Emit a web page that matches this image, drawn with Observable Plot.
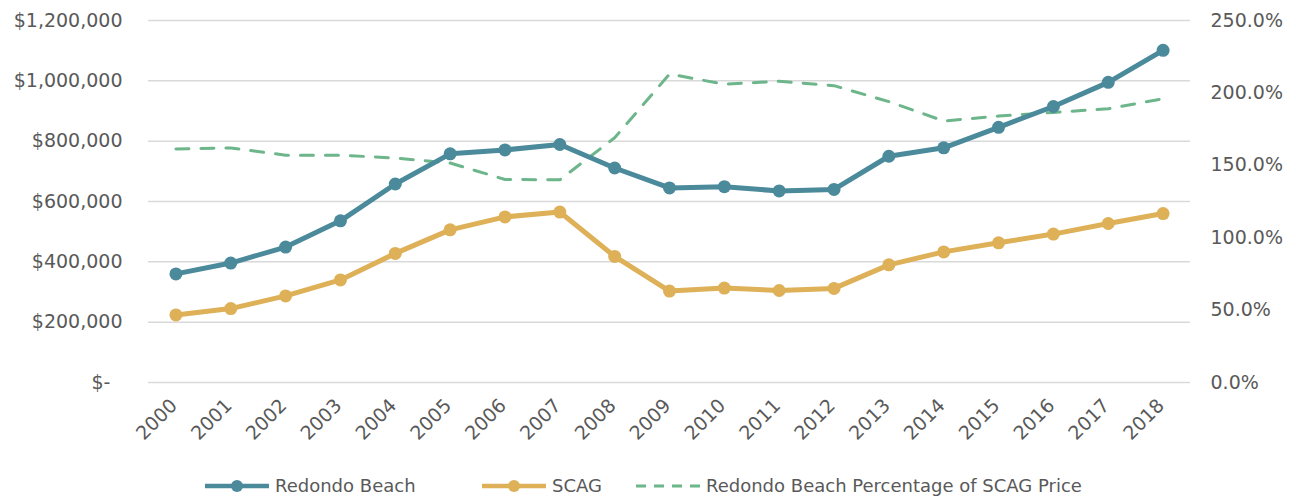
<!DOCTYPE html>
<html>
<head>
<meta charset="utf-8">
<script src="https://cdn.jsdelivr.net/npm/d3@7"></script>
<script src="https://cdn.jsdelivr.net/npm/@observablehq/plot@0.6"></script>
<style>
  body { margin: 0; background: #fff; font-family: "DejaVu Sans", sans-serif; }
  #legend { position: relative; height: 30px; margin-top: 15px; color: #595959; font-size: 18px; }
  .item { position: absolute; top: 0; display: flex; align-items: center; }
  .item svg { display: block; }
</style>
</head>
<body>
<div id="chart"></div>
<div id="legend"></div>
<script>
const years = ["2000","2001","2002","2003","2004","2005","2006","2007","2008","2009","2010","2011","2012","2013","2014","2015","2016","2017","2018"];
const redondo = [360000,396000,449000,536000,658000,758000,771000,789000,711000,645000,649000,635000,640000,750000,778000,846000,915000,995000,1101000];
const scag = [224000,245000,287000,340000,428000,506000,549000,565000,418000,303000,313000,305000,312000,390000,433000,463000,492000,527000,560000];
const pct = [161.3,162,157,157,155,151.6,140.2,140,169,213,206,208,205,194,180.6,184,186.5,189,196];
const leftTicks = [0,200000,400000,600000,800000,1000000,1200000];
const rightTicks = [0,50,100,150,200,250];
const seriesNames = ["Redondo Beach", "SCAG", "Redondo Beach Percentage of SCAG Price"];

const teal = "#4a8a9b", gold = "#deb057", green = "#6db58a", textCol = "#595959";
const scaleFactor = 1200000 / 250; // right axis 250% aligns with $1,200,000

const rb = years.map((y, i) => ({year: y, value: redondo[i]}));
const sc = years.map((y, i) => ({year: y, value: scag[i]}));
const pc = years.map((y, i) => ({year: y, value: pct[i] * scaleFactor}));

const fmtMoney = v => v === 0 ? "$-\u00a0\u00a0" : "$" + d3.format(",")(v);
const FS = 19;

const chart = Plot.plot({
  width: 1296,
  height: 460,
  marginLeft: 148,
  marginRight: 106,
  marginTop: 20,
  marginBottom: 78,
  style: {fontFamily: "DejaVu Sans, sans-serif", fontSize: FS + "px", color: textCol, background: "#fff"},
  x: {type: "point", domain: years, padding: 0.5, round: false, label: null},
  y: {domain: [0, 1200000], label: null},
  marks: [
    Plot.gridY(leftTicks, {stroke: "#d9d9d9", strokeOpacity: 1, strokeWidth: 1.5}),
    Plot.axisY(leftTicks, {anchor: "left", tickSize: 0, tickPadding: 26, tickFormat: fmtMoney, fill: textCol, fontSize: FS, label: null}),
    Plot.axisY(rightTicks.map(p => p * scaleFactor), {anchor: "right", tickSize: 0, tickPadding: 20, textAnchor: "start",
      tickFormat: v => (v / scaleFactor).toFixed(1) + "%", fill: textCol, fontSize: FS, label: null}),
    Plot.axisX(years, {tickSize: 0, tickRotate: -45, tickPadding: 20, dx: -2, fill: textCol, fontSize: FS, label: null}),
    Plot.line(pc, {x: "year", y: "value", stroke: green, strokeWidth: 3, strokeDasharray: "13,12"}),
    Plot.line(sc, {x: "year", y: "value", stroke: gold, strokeWidth: 5}),
    Plot.dot(sc, {x: "year", y: "value", fill: gold, r: 6.5}),
    Plot.line(rb, {x: "year", y: "value", stroke: teal, strokeWidth: 5}),
    Plot.dot(rb, {x: "year", y: "value", fill: teal, r: 6.5})
  ]
});
document.getElementById("chart").appendChild(chart);

const legendItems = [
  {label: seriesNames[0], color: teal, dash: null, dot: true, x: 205},
  {label: seriesNames[1], color: gold, dash: null, dot: true, x: 482},
  {label: seriesNames[2], color: green, dash: "10,8", dot: false, x: 636}
];
const legend = document.getElementById("legend");
legendItems.forEach(it => {
  const el = document.createElement("div");
  el.className = "item";
  el.style.left = it.x + "px";
  const w = 64;
  el.innerHTML = `<svg width="${w}" height="16"><line x1="0" x2="${w}" y1="8" y2="8" stroke="${it.color}" stroke-width="${it.dot ? 4.5 : 3}" ${it.dash ? `stroke-dasharray="${it.dash}"` : ""}/>${it.dot ? `<circle cx="${w/2}" cy="8" r="6" fill="${it.color}"/>` : ""}</svg><span style="margin-left:6px">${it.label}</span>`;
  legend.appendChild(el);
});
</script>
</body>
</html>
